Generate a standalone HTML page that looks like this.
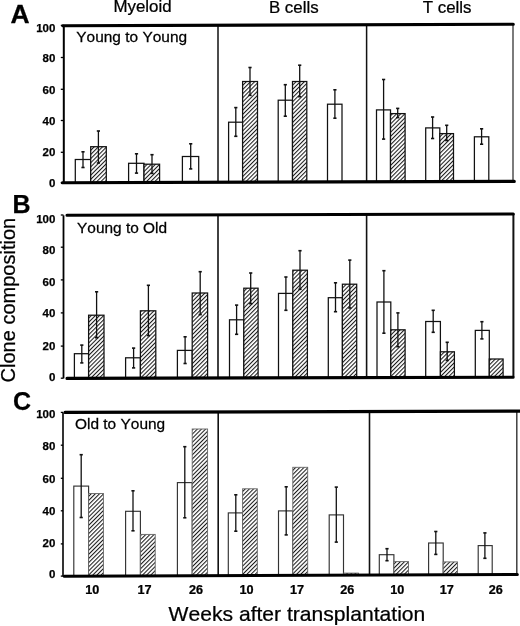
<!DOCTYPE html>
<html><head><meta charset="utf-8"><style>
html,body{margin:0;padding:0;background:#fff;}
body{width:520px;height:626px;overflow:hidden;}
svg{display:block;filter:grayscale(1);}
text{font-family:"Liberation Sans",sans-serif;fill:#000;stroke:#000;stroke-width:0.25px;font-kerning:none;-webkit-font-smoothing:antialiased;}
.tk{font-size:11.5px;font-weight:bold;}
</style></head><body>
<svg width="520" height="626" viewBox="0 0 520 626">
<defs>
<pattern id="hatch" patternUnits="userSpaceOnUse" width="2.93" height="10" patternTransform="rotate(45)">
<rect x="0" y="0" width="2.93" height="10" fill="#fff"/>
<rect x="0" y="0" width="1.05" height="10" fill="#1a1a1a"/>
</pattern>
<pattern id="hatchC" patternUnits="userSpaceOnUse" width="2.93" height="10" patternTransform="rotate(45)">
<rect x="0" y="0" width="2.93" height="10" fill="#fff"/>
<rect x="0" y="0" width="1.05" height="10" fill="#1a1a1a"/>
</pattern>
</defs>
<rect x="0" y="0" width="520" height="626" fill="#fff"/>
<rect x="75.3" y="159.5" width="15.4" height="23.14" fill="#fff" stroke="#111" stroke-width="1.25"/>
<line x1="83" y1="151.8" x2="83" y2="167.5" stroke="#111" stroke-width="1.3"/>
<line x1="81.4" y1="151.8" x2="84.6" y2="151.8" stroke="#111" stroke-width="1.6"/>
<line x1="81.4" y1="167.5" x2="84.6" y2="167.5" stroke="#111" stroke-width="1.6"/>
<rect x="90.7" y="146.7" width="15.6" height="35.9" fill="url(#hatch)" stroke="#111" stroke-width="1.25"/>
<line x1="98.4" y1="131" x2="98.4" y2="163" stroke="#111" stroke-width="1.3"/>
<line x1="96.8" y1="131" x2="100" y2="131" stroke="#111" stroke-width="1.6"/>
<line x1="96.8" y1="163" x2="100" y2="163" stroke="#111" stroke-width="1.6"/>
<rect x="128.6" y="163.3" width="15.4" height="19.19" fill="#fff" stroke="#111" stroke-width="1.25"/>
<line x1="136.5" y1="153.8" x2="136.5" y2="173.1" stroke="#111" stroke-width="1.3"/>
<line x1="134.9" y1="153.8" x2="138.1" y2="153.8" stroke="#111" stroke-width="1.6"/>
<line x1="134.9" y1="173.1" x2="138.1" y2="173.1" stroke="#111" stroke-width="1.6"/>
<rect x="144" y="164.2" width="15.6" height="18.24" fill="url(#hatch)" stroke="#111" stroke-width="1.25"/>
<line x1="152" y1="154.7" x2="152" y2="173.4" stroke="#111" stroke-width="1.3"/>
<line x1="150.4" y1="154.7" x2="153.6" y2="154.7" stroke="#111" stroke-width="1.6"/>
<line x1="150.4" y1="173.4" x2="153.6" y2="173.4" stroke="#111" stroke-width="1.6"/>
<rect x="182.4" y="156.5" width="16.3" height="25.83" fill="#fff" stroke="#111" stroke-width="1.25"/>
<line x1="190.7" y1="143.8" x2="190.7" y2="168.9" stroke="#111" stroke-width="1.3"/>
<line x1="189.1" y1="143.8" x2="192.3" y2="143.8" stroke="#111" stroke-width="1.6"/>
<line x1="189.1" y1="168.9" x2="192.3" y2="168.9" stroke="#111" stroke-width="1.6"/>
<rect x="228.6" y="122.2" width="14" height="60" fill="#fff" stroke="#111" stroke-width="1.25"/>
<line x1="235.8" y1="107.6" x2="235.8" y2="136.3" stroke="#111" stroke-width="1.3"/>
<line x1="234.2" y1="107.6" x2="237.4" y2="107.6" stroke="#111" stroke-width="1.6"/>
<line x1="234.2" y1="136.3" x2="237.4" y2="136.3" stroke="#111" stroke-width="1.6"/>
<rect x="242.6" y="81.5" width="14.9" height="100.66" fill="url(#hatch)" stroke="#111" stroke-width="1.25"/>
<line x1="250" y1="67.5" x2="250" y2="95.3" stroke="#111" stroke-width="1.3"/>
<line x1="248.4" y1="67.5" x2="251.6" y2="67.5" stroke="#111" stroke-width="1.6"/>
<line x1="248.4" y1="95.3" x2="251.6" y2="95.3" stroke="#111" stroke-width="1.6"/>
<rect x="278.2" y="100.2" width="14.3" height="81.86" fill="#fff" stroke="#111" stroke-width="1.25"/>
<line x1="285.3" y1="84.7" x2="285.3" y2="116.2" stroke="#111" stroke-width="1.3"/>
<line x1="283.7" y1="84.7" x2="286.9" y2="84.7" stroke="#111" stroke-width="1.6"/>
<line x1="283.7" y1="116.2" x2="286.9" y2="116.2" stroke="#111" stroke-width="1.6"/>
<rect x="292.5" y="81.5" width="14.3" height="100.52" fill="url(#hatch)" stroke="#111" stroke-width="1.25"/>
<line x1="299.7" y1="65.2" x2="299.7" y2="96.7" stroke="#111" stroke-width="1.3"/>
<line x1="298.1" y1="65.2" x2="301.3" y2="65.2" stroke="#111" stroke-width="1.6"/>
<line x1="298.1" y1="96.7" x2="301.3" y2="96.7" stroke="#111" stroke-width="1.6"/>
<rect x="327.5" y="104.2" width="14.5" height="77.72" fill="#fff" stroke="#111" stroke-width="1.25"/>
<line x1="334.9" y1="89.8" x2="334.9" y2="118.2" stroke="#111" stroke-width="1.3"/>
<line x1="333.3" y1="89.8" x2="336.5" y2="89.8" stroke="#111" stroke-width="1.6"/>
<line x1="333.3" y1="118.2" x2="336.5" y2="118.2" stroke="#111" stroke-width="1.6"/>
<rect x="376.5" y="109.9" width="14" height="71.88" fill="#fff" stroke="#111" stroke-width="1.25"/>
<line x1="383.6" y1="79.5" x2="383.6" y2="139.1" stroke="#111" stroke-width="1.3"/>
<line x1="382" y1="79.5" x2="385.2" y2="79.5" stroke="#111" stroke-width="1.6"/>
<line x1="382" y1="139.1" x2="385.2" y2="139.1" stroke="#111" stroke-width="1.6"/>
<rect x="390.5" y="113.6" width="14.6" height="68.13" fill="url(#hatch)" stroke="#111" stroke-width="1.25"/>
<line x1="397.7" y1="108.4" x2="397.7" y2="117.6" stroke="#111" stroke-width="1.3"/>
<line x1="396.1" y1="108.4" x2="399.3" y2="108.4" stroke="#111" stroke-width="1.6"/>
<line x1="396.1" y1="117.6" x2="399.3" y2="117.6" stroke="#111" stroke-width="1.6"/>
<rect x="425.7" y="127.9" width="14.1" height="53.73" fill="#fff" stroke="#111" stroke-width="1.25"/>
<line x1="432.6" y1="117" x2="432.6" y2="138.5" stroke="#111" stroke-width="1.3"/>
<line x1="431" y1="117" x2="434.2" y2="117" stroke="#111" stroke-width="1.6"/>
<line x1="431" y1="138.5" x2="434.2" y2="138.5" stroke="#111" stroke-width="1.6"/>
<rect x="439.8" y="133.6" width="13.7" height="47.99" fill="url(#hatch)" stroke="#111" stroke-width="1.25"/>
<line x1="446.7" y1="125.3" x2="446.7" y2="140.5" stroke="#111" stroke-width="1.3"/>
<line x1="445.1" y1="125.3" x2="448.3" y2="125.3" stroke="#111" stroke-width="1.6"/>
<line x1="445.1" y1="140.5" x2="448.3" y2="140.5" stroke="#111" stroke-width="1.6"/>
<rect x="474.4" y="136.8" width="14.4" height="44.69" fill="#fff" stroke="#111" stroke-width="1.25"/>
<line x1="481.6" y1="128.8" x2="481.6" y2="144.2" stroke="#111" stroke-width="1.3"/>
<line x1="480" y1="128.8" x2="483.2" y2="128.8" stroke="#111" stroke-width="1.6"/>
<line x1="480" y1="144.2" x2="483.2" y2="144.2" stroke="#111" stroke-width="1.6"/>
<line x1="63.8" y1="25.7" x2="63.8" y2="182.7" stroke="#000" stroke-width="2.0"/>
<line x1="218" y1="25.22" x2="218" y2="182.25" stroke="#111" stroke-width="1.5"/>
<line x1="366.6" y1="24.76" x2="366.6" y2="181.82" stroke="#111" stroke-width="1.5"/>
<line x1="513" y1="24.3" x2="513" y2="181.4" stroke="#444" stroke-width="1.4"/>
<line x1="60.8" y1="25.4" x2="63.8" y2="25.4" stroke="#000" stroke-width="1.3"/>
<line x1="60.8" y1="57.5" x2="63.8" y2="57.5" stroke="#000" stroke-width="1.3"/>
<line x1="60.8" y1="89.3" x2="63.8" y2="89.3" stroke="#000" stroke-width="1.3"/>
<line x1="60.8" y1="120.5" x2="63.8" y2="120.5" stroke="#000" stroke-width="1.3"/>
<line x1="60.8" y1="152.3" x2="63.8" y2="152.3" stroke="#000" stroke-width="1.3"/>
<line x1="60.8" y1="182.7" x2="63.8" y2="182.7" stroke="#000" stroke-width="1.3"/>
<line x1="62.8" y1="25.7" x2="513.3" y2="24.3" stroke="#000" stroke-width="3.1" stroke-linecap="round"/>
<line x1="62.3" y1="182.7" x2="514.3" y2="181.39" stroke="#000" stroke-width="3.1" stroke-linecap="round"/>
<text x="0" y="0" transform="translate(55.4,31.8) scale(1.0,1)" text-anchor="end" class="tk">100</text>
<text x="0" y="0" transform="translate(55.4,62.4) scale(1.0,1)" text-anchor="end" class="tk">80</text>
<text x="0" y="0" transform="translate(55.4,94.1) scale(1.0,1)" text-anchor="end" class="tk">60</text>
<text x="0" y="0" transform="translate(55.4,124.8) scale(1.0,1)" text-anchor="end" class="tk">40</text>
<text x="0" y="0" transform="translate(55.4,156) scale(1.0,1)" text-anchor="end" class="tk">20</text>
<text x="0" y="0" transform="translate(55.4,186.8) scale(1.0,1)" text-anchor="end" class="tk">0</text>
<rect x="74.4" y="353.7" width="14.2" height="24.65" fill="#fff" stroke="#111" stroke-width="1.25"/>
<line x1="81.8" y1="345.1" x2="81.8" y2="362.9" stroke="#111" stroke-width="1.3"/>
<line x1="80.2" y1="345.1" x2="83.4" y2="345.1" stroke="#111" stroke-width="1.6"/>
<line x1="80.2" y1="362.9" x2="83.4" y2="362.9" stroke="#111" stroke-width="1.6"/>
<rect x="88.6" y="315.2" width="15.4" height="63.11" fill="url(#hatch)" stroke="#111" stroke-width="1.25"/>
<line x1="96.6" y1="291.8" x2="96.6" y2="337.7" stroke="#111" stroke-width="1.3"/>
<line x1="95" y1="291.8" x2="98.2" y2="291.8" stroke="#111" stroke-width="1.6"/>
<line x1="95" y1="337.7" x2="98.2" y2="337.7" stroke="#111" stroke-width="1.6"/>
<rect x="125.6" y="357.8" width="14.8" height="20.41" fill="#fff" stroke="#111" stroke-width="1.25"/>
<line x1="133.6" y1="348.1" x2="133.6" y2="367.9" stroke="#111" stroke-width="1.3"/>
<line x1="132" y1="348.1" x2="135.2" y2="348.1" stroke="#111" stroke-width="1.6"/>
<line x1="132" y1="367.9" x2="135.2" y2="367.9" stroke="#111" stroke-width="1.6"/>
<rect x="140.4" y="310.8" width="15.4" height="67.37" fill="url(#hatch)" stroke="#111" stroke-width="1.25"/>
<line x1="148.4" y1="285.3" x2="148.4" y2="335.6" stroke="#111" stroke-width="1.3"/>
<line x1="146.8" y1="285.3" x2="150" y2="285.3" stroke="#111" stroke-width="1.6"/>
<line x1="146.8" y1="335.6" x2="150" y2="335.6" stroke="#111" stroke-width="1.6"/>
<rect x="177.4" y="350.4" width="14.8" height="27.67" fill="#fff" stroke="#111" stroke-width="1.25"/>
<line x1="185.1" y1="336.8" x2="185.1" y2="363.5" stroke="#111" stroke-width="1.3"/>
<line x1="183.5" y1="336.8" x2="186.7" y2="336.8" stroke="#111" stroke-width="1.6"/>
<line x1="183.5" y1="363.5" x2="186.7" y2="363.5" stroke="#111" stroke-width="1.6"/>
<rect x="192.2" y="293" width="15.4" height="85.03" fill="url(#hatch)" stroke="#111" stroke-width="1.25"/>
<line x1="200.2" y1="271.7" x2="200.2" y2="314.6" stroke="#111" stroke-width="1.3"/>
<line x1="198.6" y1="271.7" x2="201.8" y2="271.7" stroke="#111" stroke-width="1.6"/>
<line x1="198.6" y1="314.6" x2="201.8" y2="314.6" stroke="#111" stroke-width="1.6"/>
<rect x="229.5" y="319.8" width="14.3" height="58.14" fill="#fff" stroke="#111" stroke-width="1.25"/>
<line x1="236.6" y1="305.1" x2="236.6" y2="334.3" stroke="#111" stroke-width="1.3"/>
<line x1="235" y1="305.1" x2="238.2" y2="305.1" stroke="#111" stroke-width="1.6"/>
<line x1="235" y1="334.3" x2="238.2" y2="334.3" stroke="#111" stroke-width="1.6"/>
<rect x="243.8" y="288.2" width="14.3" height="89.7" fill="url(#hatch)" stroke="#111" stroke-width="1.25"/>
<line x1="250.7" y1="273" x2="250.7" y2="303.7" stroke="#111" stroke-width="1.3"/>
<line x1="249.1" y1="273" x2="252.3" y2="273" stroke="#111" stroke-width="1.6"/>
<line x1="249.1" y1="303.7" x2="252.3" y2="303.7" stroke="#111" stroke-width="1.6"/>
<rect x="278.5" y="293.4" width="14.3" height="84.41" fill="#fff" stroke="#111" stroke-width="1.25"/>
<line x1="285.9" y1="277" x2="285.9" y2="310.3" stroke="#111" stroke-width="1.3"/>
<line x1="284.3" y1="277" x2="287.5" y2="277" stroke="#111" stroke-width="1.6"/>
<line x1="284.3" y1="310.3" x2="287.5" y2="310.3" stroke="#111" stroke-width="1.6"/>
<rect x="292.8" y="270.2" width="14.6" height="107.57" fill="url(#hatch)" stroke="#111" stroke-width="1.25"/>
<line x1="300" y1="250.7" x2="300" y2="289.3" stroke="#111" stroke-width="1.3"/>
<line x1="298.4" y1="250.7" x2="301.6" y2="250.7" stroke="#111" stroke-width="1.6"/>
<line x1="298.4" y1="289.3" x2="301.6" y2="289.3" stroke="#111" stroke-width="1.6"/>
<rect x="328.3" y="297.7" width="14.1" height="79.97" fill="#fff" stroke="#111" stroke-width="1.25"/>
<line x1="335.5" y1="282.8" x2="335.5" y2="311.7" stroke="#111" stroke-width="1.3"/>
<line x1="333.9" y1="282.8" x2="337.1" y2="282.8" stroke="#111" stroke-width="1.6"/>
<line x1="333.9" y1="311.7" x2="337.1" y2="311.7" stroke="#111" stroke-width="1.6"/>
<rect x="342.4" y="284.2" width="14.3" height="93.44" fill="url(#hatch)" stroke="#111" stroke-width="1.25"/>
<line x1="349.8" y1="260.1" x2="349.8" y2="308" stroke="#111" stroke-width="1.3"/>
<line x1="348.2" y1="260.1" x2="351.4" y2="260.1" stroke="#111" stroke-width="1.6"/>
<line x1="348.2" y1="308" x2="351.4" y2="308" stroke="#111" stroke-width="1.6"/>
<rect x="377" y="302" width="13.8" height="75.55" fill="#fff" stroke="#111" stroke-width="1.25"/>
<line x1="383.9" y1="270.7" x2="383.9" y2="333.2" stroke="#111" stroke-width="1.3"/>
<line x1="382.3" y1="270.7" x2="385.5" y2="270.7" stroke="#111" stroke-width="1.6"/>
<line x1="382.3" y1="333.2" x2="385.5" y2="333.2" stroke="#111" stroke-width="1.6"/>
<rect x="390.8" y="329.8" width="14.3" height="47.71" fill="url(#hatch)" stroke="#111" stroke-width="1.25"/>
<line x1="397.9" y1="312.9" x2="397.9" y2="346.7" stroke="#111" stroke-width="1.3"/>
<line x1="396.3" y1="312.9" x2="399.5" y2="312.9" stroke="#111" stroke-width="1.6"/>
<line x1="396.3" y1="346.7" x2="399.5" y2="346.7" stroke="#111" stroke-width="1.6"/>
<rect x="425.7" y="321.5" width="14.7" height="55.91" fill="#fff" stroke="#111" stroke-width="1.25"/>
<line x1="433.2" y1="310.3" x2="433.2" y2="332.3" stroke="#111" stroke-width="1.3"/>
<line x1="431.6" y1="310.3" x2="434.8" y2="310.3" stroke="#111" stroke-width="1.6"/>
<line x1="431.6" y1="332.3" x2="434.8" y2="332.3" stroke="#111" stroke-width="1.6"/>
<rect x="440.4" y="351.8" width="14" height="25.58" fill="url(#hatch)" stroke="#111" stroke-width="1.25"/>
<line x1="447.2" y1="342.3" x2="447.2" y2="360.4" stroke="#111" stroke-width="1.3"/>
<line x1="445.6" y1="342.3" x2="448.8" y2="342.3" stroke="#111" stroke-width="1.6"/>
<line x1="445.6" y1="360.4" x2="448.8" y2="360.4" stroke="#111" stroke-width="1.6"/>
<rect x="475.3" y="330.4" width="14" height="46.88" fill="#fff" stroke="#111" stroke-width="1.25"/>
<line x1="481.9" y1="321.7" x2="481.9" y2="338.9" stroke="#111" stroke-width="1.3"/>
<line x1="480.3" y1="321.7" x2="483.5" y2="321.7" stroke="#111" stroke-width="1.6"/>
<line x1="480.3" y1="338.9" x2="483.5" y2="338.9" stroke="#111" stroke-width="1.6"/>
<rect x="489.3" y="359" width="13.8" height="18.25" fill="url(#hatch)" stroke="#111" stroke-width="1.25"/>
<line x1="63.5" y1="215.3" x2="63.5" y2="378.4" stroke="#000" stroke-width="1.8"/>
<line x1="218" y1="214.85" x2="218" y2="377.99" stroke="#111" stroke-width="1.6"/>
<line x1="366.6" y1="214.42" x2="366.6" y2="377.59" stroke="#111" stroke-width="1.6"/>
<line x1="513.4" y1="214" x2="513.4" y2="377.2" stroke="#111" stroke-width="2.0"/>
<line x1="60.8" y1="215" x2="63.5" y2="215" stroke="#000" stroke-width="1.3"/>
<line x1="60.8" y1="247.2" x2="63.5" y2="247.2" stroke="#000" stroke-width="1.3"/>
<line x1="60.8" y1="279.9" x2="63.5" y2="279.9" stroke="#000" stroke-width="1.3"/>
<line x1="60.8" y1="312.9" x2="63.5" y2="312.9" stroke="#000" stroke-width="1.3"/>
<line x1="60.8" y1="346.1" x2="63.5" y2="346.1" stroke="#000" stroke-width="1.3"/>
<line x1="60.8" y1="378.2" x2="63.5" y2="378.2" stroke="#000" stroke-width="1.3"/>
<line x1="67" y1="215.29" x2="513.3" y2="214" stroke="#000" stroke-width="3.1" stroke-linecap="round"/>
<line x1="67" y1="378.39" x2="513.1" y2="377.2" stroke="#000" stroke-width="3.1" stroke-linecap="round"/>
<text x="0" y="0" transform="translate(55.4,223) scale(1.0,1)" text-anchor="end" class="tk">100</text>
<text x="0" y="0" transform="translate(55.4,253.8) scale(1.0,1)" text-anchor="end" class="tk">80</text>
<text x="0" y="0" transform="translate(55.4,285.75) scale(1.0,1)" text-anchor="end" class="tk">60</text>
<text x="0" y="0" transform="translate(55.4,317.3) scale(1.0,1)" text-anchor="end" class="tk">40</text>
<text x="0" y="0" transform="translate(55.4,349.8) scale(1.0,1)" text-anchor="end" class="tk">20</text>
<text x="0" y="0" transform="translate(55.4,380.8) scale(1.0,1)" text-anchor="end" class="tk">0</text>
<rect x="73.8" y="486.1" width="14.8" height="90.12" fill="#fff" stroke="#333" stroke-width="1.15"/>
<line x1="81.2" y1="454.7" x2="81.2" y2="517.5" stroke="#111" stroke-width="1.3"/>
<line x1="79.6" y1="454.7" x2="82.8" y2="454.7" stroke="#111" stroke-width="1.6"/>
<line x1="79.6" y1="517.5" x2="82.8" y2="517.5" stroke="#111" stroke-width="1.6"/>
<rect x="88.6" y="493.5" width="14.8" height="82.66" fill="url(#hatchC)" stroke="#666" stroke-width="0.9"/>
<rect x="125.6" y="511.3" width="14.8" height="64.72" fill="#fff" stroke="#333" stroke-width="1.15"/>
<line x1="133" y1="490.8" x2="133" y2="530.8" stroke="#111" stroke-width="1.3"/>
<line x1="131.4" y1="490.8" x2="134.6" y2="490.8" stroke="#111" stroke-width="1.6"/>
<line x1="131.4" y1="530.8" x2="134.6" y2="530.8" stroke="#111" stroke-width="1.6"/>
<rect x="140.4" y="534.4" width="14.8" height="41.56" fill="url(#hatchC)" stroke="#666" stroke-width="0.9"/>
<rect x="177.4" y="482.6" width="14.8" height="93.21" fill="#fff" stroke="#333" stroke-width="1.15"/>
<line x1="184.8" y1="446.7" x2="184.8" y2="517.8" stroke="#111" stroke-width="1.3"/>
<line x1="183.2" y1="446.7" x2="186.4" y2="446.7" stroke="#111" stroke-width="1.6"/>
<line x1="183.2" y1="517.8" x2="186.4" y2="517.8" stroke="#111" stroke-width="1.6"/>
<rect x="192.2" y="429" width="15.4" height="146.75" fill="url(#hatchC)" stroke="#666" stroke-width="0.9"/>
<rect x="228.3" y="512.9" width="14.3" height="62.71" fill="#fff" stroke="#333" stroke-width="1.15"/>
<line x1="235.8" y1="494.8" x2="235.8" y2="531.2" stroke="#111" stroke-width="1.3"/>
<line x1="234.2" y1="494.8" x2="237.4" y2="494.8" stroke="#111" stroke-width="1.6"/>
<line x1="234.2" y1="531.2" x2="237.4" y2="531.2" stroke="#111" stroke-width="1.6"/>
<rect x="242.6" y="488.8" width="14.7" height="86.75" fill="url(#hatchC)" stroke="#666" stroke-width="0.9"/>
<rect x="278.5" y="510.9" width="14.3" height="64.51" fill="#fff" stroke="#333" stroke-width="1.15"/>
<line x1="286.2" y1="486.8" x2="286.2" y2="534.9" stroke="#111" stroke-width="1.3"/>
<line x1="284.6" y1="486.8" x2="287.8" y2="486.8" stroke="#111" stroke-width="1.6"/>
<line x1="284.6" y1="534.9" x2="287.8" y2="534.9" stroke="#111" stroke-width="1.6"/>
<rect x="292.8" y="467.3" width="14.9" height="108.05" fill="url(#hatchC)" stroke="#666" stroke-width="0.9"/>
<rect x="329.2" y="514.9" width="14.3" height="60.31" fill="#fff" stroke="#333" stroke-width="1.15"/>
<line x1="336.3" y1="487.1" x2="336.3" y2="542.1" stroke="#111" stroke-width="1.3"/>
<line x1="334.7" y1="487.1" x2="337.9" y2="487.1" stroke="#111" stroke-width="1.6"/>
<line x1="334.7" y1="542.1" x2="337.9" y2="542.1" stroke="#111" stroke-width="1.6"/>
<rect x="343.5" y="573.1" width="14.9" height="2.05" fill="url(#hatchC)" stroke="#666" stroke-width="0.9"/>
<rect x="379.3" y="554.7" width="14.6" height="20.31" fill="#fff" stroke="#333" stroke-width="1.15"/>
<line x1="387" y1="548.7" x2="387" y2="560.7" stroke="#111" stroke-width="1.3"/>
<line x1="385.4" y1="548.7" x2="388.6" y2="548.7" stroke="#111" stroke-width="1.6"/>
<line x1="385.4" y1="560.7" x2="388.6" y2="560.7" stroke="#111" stroke-width="1.6"/>
<rect x="393.9" y="561.6" width="14.6" height="13.35" fill="url(#hatchC)" stroke="#666" stroke-width="0.9"/>
<rect x="428.6" y="543" width="14.6" height="31.81" fill="#fff" stroke="#333" stroke-width="1.15"/>
<line x1="435.8" y1="531.5" x2="435.8" y2="554.4" stroke="#111" stroke-width="1.3"/>
<line x1="434.2" y1="531.5" x2="437.4" y2="531.5" stroke="#111" stroke-width="1.6"/>
<line x1="434.2" y1="554.4" x2="437.4" y2="554.4" stroke="#111" stroke-width="1.6"/>
<rect x="443.2" y="561.9" width="14.3" height="12.85" fill="url(#hatchC)" stroke="#666" stroke-width="0.9"/>
<rect x="478.2" y="545.6" width="14" height="29.01" fill="#fff" stroke="#333" stroke-width="1.15"/>
<line x1="484.9" y1="532.9" x2="484.9" y2="558.3" stroke="#111" stroke-width="1.3"/>
<line x1="483.3" y1="532.9" x2="486.5" y2="532.9" stroke="#111" stroke-width="1.6"/>
<line x1="483.3" y1="558.3" x2="486.5" y2="558.3" stroke="#111" stroke-width="1.6"/>
<line x1="63" y1="412.4" x2="63" y2="576.3" stroke="#000" stroke-width="1.6"/>
<line x1="218.2" y1="411.95" x2="218.2" y2="575.68" stroke="#111" stroke-width="1.6"/>
<line x1="369.5" y1="411.52" x2="369.5" y2="575.08" stroke="#111" stroke-width="1.6"/>
<line x1="516.8" y1="411.09" x2="516.8" y2="574.49" stroke="#333" stroke-width="1.4"/>
<line x1="60.8" y1="412.4" x2="63" y2="412.4" stroke="#000" stroke-width="1.3"/>
<line x1="60.8" y1="445.2" x2="63" y2="445.2" stroke="#000" stroke-width="1.3"/>
<line x1="60.8" y1="478.3" x2="63" y2="478.3" stroke="#000" stroke-width="1.3"/>
<line x1="60.8" y1="510.8" x2="63" y2="510.8" stroke="#000" stroke-width="1.3"/>
<line x1="60.8" y1="543.9" x2="63" y2="543.9" stroke="#000" stroke-width="1.3"/>
<line x1="60.8" y1="576.1" x2="63" y2="576.1" stroke="#000" stroke-width="1.3"/>
<line x1="65" y1="412.4" x2="520" y2="411.08" stroke="#000" stroke-width="3.1" stroke-linecap="round"/>
<line x1="64.3" y1="576.3" x2="517.3" y2="574.48" stroke="#000" stroke-width="3.1" stroke-linecap="round"/>
<text x="0" y="0" transform="translate(55.4,418.3) scale(1.0,1)" text-anchor="end" class="tk">100</text>
<text x="0" y="0" transform="translate(55.4,449.7) scale(1.0,1)" text-anchor="end" class="tk">80</text>
<text x="0" y="0" transform="translate(55.4,482.8) scale(1.0,1)" text-anchor="end" class="tk">60</text>
<text x="0" y="0" transform="translate(55.4,514.7) scale(1.0,1)" text-anchor="end" class="tk">40</text>
<text x="0" y="0" transform="translate(55.4,546.9) scale(1.0,1)" text-anchor="end" class="tk">20</text>
<text x="0" y="0" transform="translate(55.4,578.2) scale(1.0,1)" text-anchor="end" class="tk">0</text>
<text x="0" y="0" transform="translate(113.5,12.3) scale(1.055,1)" text-anchor="start" font-size="16" font-weight="normal">Myeloid</text>
<text x="0" y="0" transform="translate(268.9,13) scale(1.055,1)" text-anchor="start" font-size="16" font-weight="normal">B cells</text>
<text x="0" y="0" transform="translate(422.8,12.6) scale(1.055,1)" text-anchor="start" font-size="16" font-weight="normal">T cells</text>
<text x="0" y="0" transform="translate(10.6,22.6) scale(1.06,1)" text-anchor="start" font-size="25" font-weight="bold">A</text>
<text x="0" y="0" transform="translate(12.6,213) scale(1.0,1)" text-anchor="start" font-size="25" font-weight="bold">B</text>
<text x="0" y="0" transform="translate(12.9,409.6) scale(1.0,1)" text-anchor="start" font-size="25" font-weight="bold">C</text>
<text x="0" y="0" transform="translate(76.3,42.3) scale(1.03,1)" text-anchor="start" font-size="15" font-weight="normal">Young to Young</text>
<text x="0" y="0" transform="translate(77,233) scale(1.03,1)" text-anchor="start" font-size="15" font-weight="normal">Young to Old</text>
<text x="0" y="0" transform="translate(75,429) scale(1.03,1)" text-anchor="start" font-size="15" font-weight="normal">Old to Young</text>
<text x="0" y="0" transform="translate(92.3,594.4) scale(1.055,1)" text-anchor="middle" font-size="12" font-weight="bold">10</text>
<text x="0" y="0" transform="translate(144.6,594.4) scale(1.055,1)" text-anchor="middle" font-size="12" font-weight="bold">17</text>
<text x="0" y="0" transform="translate(196,594.4) scale(1.055,1)" text-anchor="middle" font-size="12" font-weight="bold">26</text>
<text x="0" y="0" transform="translate(246.6,594.4) scale(1.055,1)" text-anchor="middle" font-size="12" font-weight="bold">10</text>
<text x="0" y="0" transform="translate(297,594.4) scale(1.055,1)" text-anchor="middle" font-size="12" font-weight="bold">17</text>
<text x="0" y="0" transform="translate(347.2,594.4) scale(1.055,1)" text-anchor="middle" font-size="12" font-weight="bold">26</text>
<text x="0" y="0" transform="translate(397.3,594.4) scale(1.055,1)" text-anchor="middle" font-size="12" font-weight="bold">10</text>
<text x="0" y="0" transform="translate(446.8,594.4) scale(1.055,1)" text-anchor="middle" font-size="12" font-weight="bold">17</text>
<text x="0" y="0" transform="translate(495.7,594.4) scale(1.055,1)" text-anchor="middle" font-size="12" font-weight="bold">26</text>
<text x="0" y="0" transform="translate(168.6,621) scale(1.055,1)" text-anchor="start" font-size="20" font-weight="normal">Weeks after transplantation</text>
<text x="0" y="0" transform="translate(15.3,382.4) rotate(-90)" font-size="20">Clone composition</text>
</svg>
</body></html>
